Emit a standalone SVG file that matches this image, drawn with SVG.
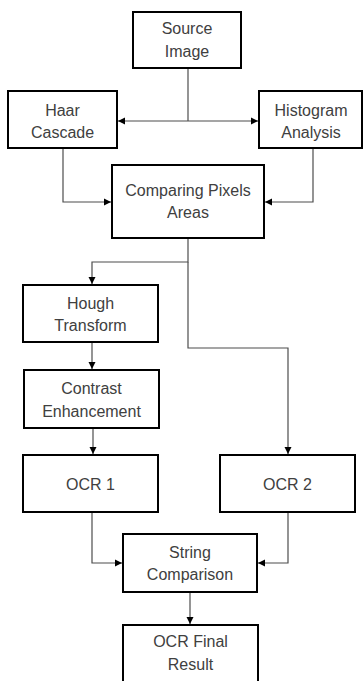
<svg xmlns="http://www.w3.org/2000/svg" width="364" height="681" viewBox="0 0 364 681">
<style>
.box{fill:#fff;stroke:#000;stroke-width:2}
.t{font-family:"Liberation Sans",Arial,sans-serif;font-size:16px;fill:#404040;text-anchor:middle}
.c{fill:none;stroke:#4d4d4d;stroke-width:1.2}
</style>
<defs>
<marker id="ah" markerUnits="userSpaceOnUse" markerWidth="8" markerHeight="8" refX="7" refY="4" orient="auto">
<path d="M0,0.5 L7,4 L0,7.5 Z" fill="#000"/>
</marker>
</defs>
<rect width="364" height="681" fill="#fff"/>
<g id="connectors">
<path class="c" d="M188,68 V121"/>
<path class="c" d="M188,121 H118" marker-end="url(#ah)"/>
<path class="c" d="M188,121 H258" marker-end="url(#ah)"/>
<path class="c" d="M63,148 V202 H111" marker-end="url(#ah)"/>
<path class="c" d="M313,148 V202 H265" marker-end="url(#ah)"/>
<path class="c" d="M188,238 V262 H92 V284" marker-end="url(#ah)"/>
<path class="c" d="M188,262 V348 H288 V454" marker-end="url(#ah)"/>
<path class="c" d="M92,342 V369" marker-end="url(#ah)"/>
<path class="c" d="M93,428 V454" marker-end="url(#ah)"/>
<path class="c" d="M92,512 V563 H122" marker-end="url(#ah)"/>
<path class="c" d="M288,512 V563 H258" marker-end="url(#ah)"/>
<path class="c" d="M190,592 V624" marker-end="url(#ah)"/>
</g>
<g id="source">
<rect class="box" x="133" y="12" width="108" height="56"/>
<text class="t" x="187" y="34">Source</text>
<text class="t" x="187" y="57">Image</text>
</g>
<g id="haar">
<rect class="box" x="8" y="91" width="109" height="57"/>
<text class="t" x="62.5" y="115.5">Haar</text>
<text class="t" x="62.5" y="138">Cascade</text>
</g>
<g id="histogram">
<rect class="box" x="259" y="91" width="103" height="57"/>
<text class="t" x="311" y="115.5">Histogram</text>
<text class="t" x="311" y="138">Analysis</text>
</g>
<g id="comparing">
<rect class="box" x="112" y="165" width="152" height="73"/>
<text class="t" x="188" y="196">Comparing Pixels</text>
<text class="t" x="188" y="218">Areas</text>
</g>
<g id="hough">
<rect class="box" x="23" y="285" width="135" height="57"/>
<text class="t" x="90.5" y="308.5">Hough</text>
<text class="t" x="90.5" y="331">Transform</text>
</g>
<g id="contrast">
<rect class="box" x="24" y="370" width="135" height="58"/>
<text class="t" x="91.5" y="394">Contrast</text>
<text class="t" x="91.5" y="416.5">Enhancement</text>
</g>
<g id="ocr1">
<rect class="box" x="23" y="455" width="135" height="57"/>
<text class="t" x="90.5" y="490">OCR 1</text>
</g>
<g id="ocr2">
<rect class="box" x="220" y="455" width="135" height="57"/>
<text class="t" x="287.5" y="490">OCR 2</text>
</g>
<g id="string">
<rect class="box" x="123" y="534" width="134" height="58"/>
<text class="t" x="190" y="558">String</text>
<text class="t" x="190" y="580">Comparison</text>
</g>
<g id="final">
<rect class="box" x="123" y="625" width="135" height="70"/>
<text class="t" x="190.5" y="647">OCR Final</text>
<text class="t" x="190.5" y="670">Result</text>
</g>
</svg>
